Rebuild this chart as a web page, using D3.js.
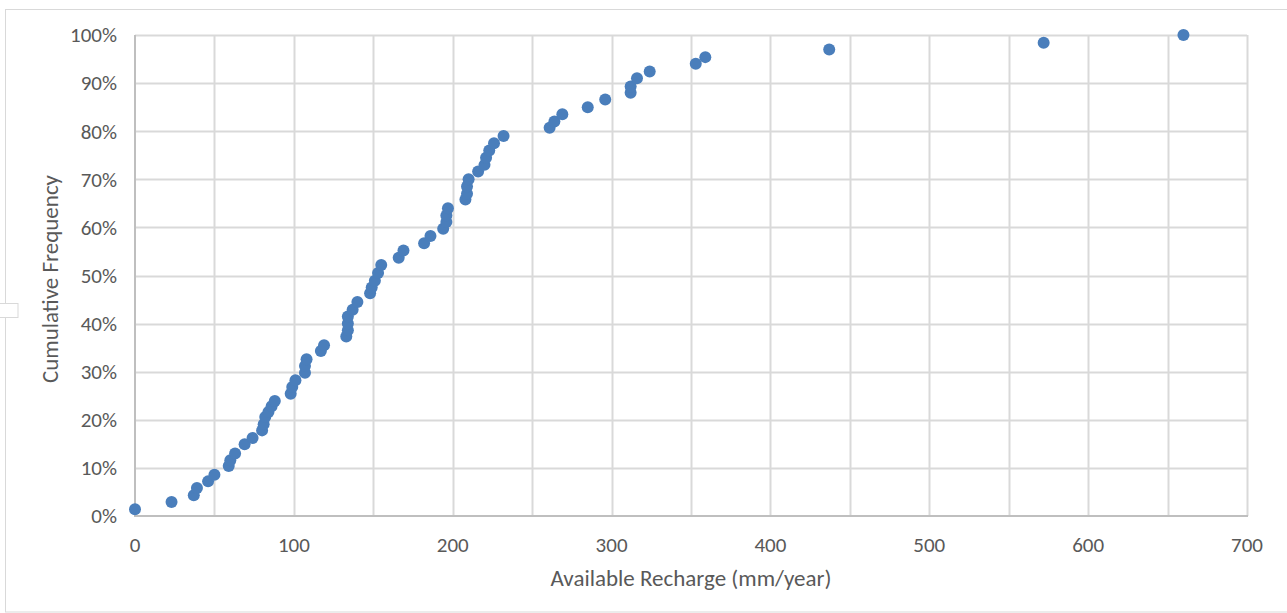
<!DOCTYPE html>
<html>
<head>
<meta charset="utf-8">
<script src="https://cdn.jsdelivr.net/npm/d3@7"></script>
<style>
  html, body { margin: 0; padding: 0; background: #fff; }
  svg { display: block; }
  text { font-family: Carlito, Calibri, "Open Sans", "Liberation Sans", sans-serif; fill: #595959; }
</style>
</head>
<body>
<svg id="chart" width="1287" height="613"></svg>
<script>
// Available recharge (mm/year)
const recharge = [0, 23, 37, 39, 46, 50, 59, 60, 63, 69, 74, 80, 81, 82, 84, 86, 88, 98, 99, 101,
  107, 107, 108, 117, 119, 133, 134, 134, 134, 137, 140, 148, 149, 151, 153, 155, 166, 169, 182, 186,
  194, 196, 196, 197, 208, 209, 209, 210, 216, 220, 221, 223, 226, 232, 261, 264, 269, 285, 296, 312,
  312, 316, 324, 353, 359, 437, 572, 660];
// Cumulative frequency (%)
const cumFreq = [1.4, 2.9, 4.3, 5.8, 7.2, 8.6, 10.4, 11.6, 13.0, 14.9, 16.2, 17.8, 19.1, 20.6, 21.6, 22.8, 23.9, 25.4, 26.8, 28.2,
  29.8, 31.2, 32.6, 34.3, 35.5, 37.3, 38.6, 40.0, 41.5, 42.9, 44.5, 46.3, 47.5, 48.9, 50.5, 52.2, 53.7, 55.2, 56.7, 58.2,
  59.7, 61.1, 62.5, 64.0, 65.8, 67.0, 68.5, 70.0, 71.6, 73.0, 74.5, 76.0, 77.5, 79.0, 80.7, 82.0, 83.5, 85.0, 86.6, 88.0,
  89.3, 91.0, 92.4, 94.0, 95.4, 97.0, 98.4, 100.0];
const xTickLabels = [0, 100, 200, 300, 400, 500, 600, 700];
const xGrid = [0, 50, 100, 150, 200, 250, 300, 350, 400, 450, 500, 550, 600, 650, 700];
const yTicks = [0, 10, 20, 30, 40, 50, 60, 70, 80, 90, 100];
const xTitle = "Available Recharge (mm/year)";
const yTitle = "Cumulative Frequency";

const svg = d3.select("#chart");
const pLeft = 135, pRight = 1247, pTop = 35, pBottom = 516;

// outer chart border
svg.append("rect").attr("x", 5.5).attr("y", 9.5).attr("width", 1290).attr("height", 602.5)
  .attr("fill", "none").attr("stroke", "#d9d9d9").attr("stroke-width", 1);
// small handle box at left
svg.append("rect").attr("x", -1).attr("y", 303.5).attr("width", 19).attr("height", 14)
  .attr("fill", "#fff").attr("stroke", "#d9d9d9");

const x = d3.scaleLinear().domain([0, 700]).range([pLeft, pRight]);
const y = d3.scaleLinear().domain([0, 100]).range([pBottom, pTop]);

// gridlines
svg.append("g").selectAll("line").data(xGrid.filter(d => d > 0)).join("line")
  .attr("x1", d => Math.round(x(d)) + 0.5).attr("x2", d => Math.round(x(d)) + 0.5)
  .attr("y1", pTop).attr("y2", pBottom)
  .attr("stroke", "#d9d9d9").attr("stroke-width", 2);
svg.append("g").selectAll("line").data(yTicks.filter(d => d > 0)).join("line")
  .attr("x1", pLeft).attr("x2", pRight)
  .attr("y1", d => Math.round(y(d)) + 0.5).attr("y2", d => Math.round(y(d)) + 0.5)
  .attr("stroke", "#d9d9d9").attr("stroke-width", 2);

// axes lines
svg.append("line").attr("x1", pLeft).attr("x2", pLeft).attr("y1", pTop).attr("y2", pBottom + 1)
  .attr("stroke", "#bfbfbf").attr("stroke-width", 2);
svg.append("line").attr("x1", pLeft).attr("x2", pRight + 1).attr("y1", pBottom).attr("y2", pBottom)
  .attr("stroke", "#bfbfbf").attr("stroke-width", 2);

// tick labels
svg.append("g").selectAll("text").data(yTicks).join("text")
  .attr("x", 117).attr("y", d => y(d)).attr("dy", "0.35em")
  .attr("text-anchor", "end").attr("font-size", 21)
  .text(d => d + "%");
svg.append("g").selectAll("text").data(xTickLabels).join("text")
  .attr("x", d => x(d)).attr("y", 545).attr("dy", "0.35em")
  .attr("text-anchor", "middle").attr("font-size", 21)
  .text(d => d);

// axis titles
svg.append("text").attr("x", 691).attr("y", 578).attr("dy", "0.35em")
  .attr("text-anchor", "middle").attr("font-size", 23).text(xTitle);
svg.append("text").attr("transform", "translate(50,279) rotate(-90)").attr("dy", "0.35em")
  .attr("text-anchor", "middle").attr("font-size", 23).text(yTitle);

// points
svg.append("g").selectAll("circle").data(recharge.map((v, i) => [v, cumFreq[i]])).join("circle")
  .attr("cx", d => x(d[0])).attr("cy", d => y(d[1])).attr("r", 6)
  .attr("fill", "#4a7ebb");
</script>
</body>
</html>
